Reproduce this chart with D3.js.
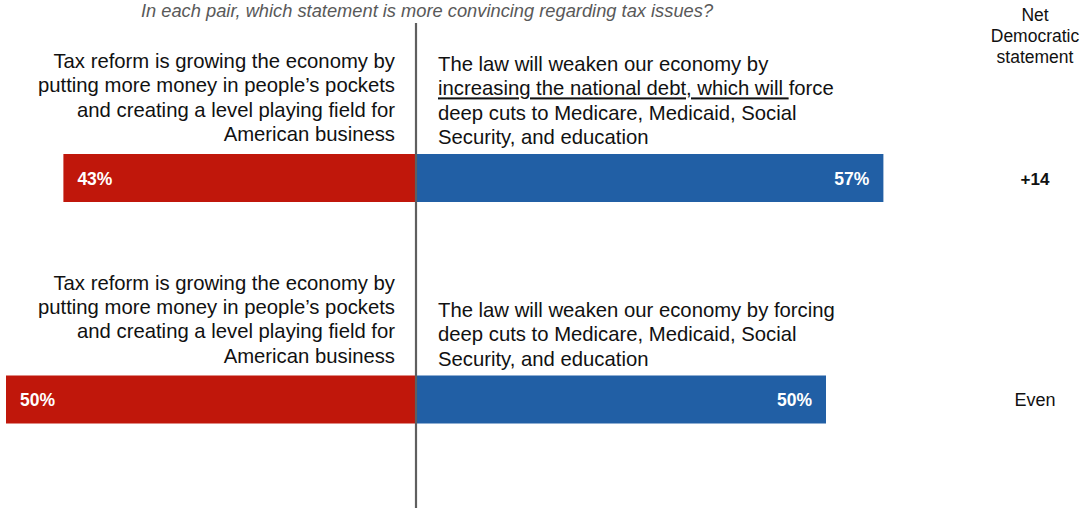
<!DOCTYPE html>
<html>
<head>
<meta charset="utf-8">
<script src="https://cdn.jsdelivr.net/npm/d3@7.9.0/dist/d3.min.js"></script>
<style>
  body { margin: 0; background: #fff; }
  svg { display: block; font-family: "Liberation Sans", Arial, sans-serif; }
</style>
</head>
<body>
<svg id="chart" width="1087" height="508"></svg>
<script>
// data
const pairs = ['pair1', 'pair2'];
const republican = [43, 50];
const democratic = [57, 50];
const netLabels = ['+14', 'Even'];
const repStatements = [
  ['Tax reform is growing the economy by', 'putting more money in people\u2019s pockets', 'and creating a level playing field for', 'American business'],
  ['Tax reform is growing the economy by', 'putting more money in people\u2019s pockets', 'and creating a level playing field for', 'American business']
];
const demStatements = [
  [['The law will weaken our economy by'], ['increasing the national debt, which will ', 'force'], ['deep cuts to Medicare, Medicaid, Social'], ['Security, and education']],
  [['The law will weaken our economy by forcing'], ['deep cuts to Medicare, Medicaid, Social'], ['Security, and education']]
];
const title = 'In each pair, which statement is more convincing regarding tax issues?';
const netHeader = ['Net', 'Democratic', 'statement'];

const svg = d3.select('#chart');

const x = d3.scaleLinear().domain([-50, 50]).range([6, 826]);
// top of each bar
const yTop = d3.scaleOrdinal().domain(pairs).range([154, 375.5]);
const barH = 48;

/*title*/
svg.append('text')
  .attr('x', 427).attr('y', 17)
  .attr('text-anchor', 'middle')
  .attr('font-size', 18.3)
  .attr('font-style', 'italic')
  .attr('fill', '#595959')
  .text(title);

/*net header*/
svg.append('g').selectAll('text')
  .data(netHeader)
  .join('text')
  .attr('x', 1035)
  .attr('y', (d, i) => 21 + i * 21)
  .attr('text-anchor', 'middle')
  .attr('font-size', 17.5)
  .attr('fill', '#111')
  .text(d => d);

/*bars*/
const rows = svg.append('g').selectAll('g')
  .data(pairs)
  .join('g');

rows.append('rect')
  .attr('x', (d, i) => x(-republican[i]))
  .attr('y', d => yTop(d))
  .attr('width', (d, i) => x(0) - x(-republican[i]))
  .attr('height', barH)
  .attr('fill', '#c0170b');

rows.append('rect')
  .attr('x', x(0))
  .attr('y', d => yTop(d))
  .attr('width', (d, i) => x(democratic[i]) - x(0))
  .attr('height', barH)
  .attr('fill', '#215fa5');

rows.append('text')
  .attr('x', (d, i) => x(-republican[i]) + 14)
  .attr('y', d => yTop(d) + barH / 2 + 6.5)
  .attr('font-size', 17.5)
  .attr('font-weight', 'bold')
  .attr('fill', '#fff')
  .text((d, i) => republican[i] + '%');

rows.append('text')
  .attr('x', (d, i) => x(democratic[i]) - 14)
  .attr('y', d => yTop(d) + barH / 2 + 6.5)
  .attr('text-anchor', 'end')
  .attr('font-size', 17.5)
  .attr('font-weight', 'bold')
  .attr('fill', '#fff')
  .text((d, i) => democratic[i] + '%');

/*net values*/
rows.append('text')
  .attr('x', 1035)
  .attr('y', d => yTop(d) + barH / 2 + 6.5)
  .attr('text-anchor', 'middle')
  .attr('font-size', (d, i) => i === 0 ? 17 : 18)
  .attr('font-weight', (d, i) => i === 0 ? 'bold' : 'normal')
  .attr('fill', '#111')
  .text((d, i) => netLabels[i]);

/*statements*/
const lineH = 24.3;
rows.each(function(d, i) {
  const g = d3.select(this);
  const top = yTop(d);
  const rep = repStatements[i];
  g.append('g').selectAll('text')
    .data(rep)
    .join('text')
    .attr('x', 395)
    .attr('y', (t, j) => top - 13 - (rep.length - 1 - j) * lineH)
    .attr('text-anchor', 'end')
    .attr('font-size', 20.3)
    .attr('fill', '#111')
    .text(t => t);

  const dem = demStatements[i];
  const dt = g.append('g').selectAll('text')
    .data(dem)
    .join('text')
    .attr('x', 438)
    .attr('y', (t, j) => top - 10 - (dem.length - 1 - j) * lineH)
    .attr('font-size', 20.3)
    .attr('fill', '#111');
  dt.selectAll('tspan')
    .data(t => t.map((s, k) => ({ s, u: t.length > 1 && k === 0 })))
    .join('tspan')
    .attr('text-decoration', p => p.u ? 'underline' : null)
    .style('white-space', 'pre')
    .text(p => p.s);
});

/*center line*/
svg.append('line')
  .attr('x1', x(0)).attr('x2', x(0))
  .attr('y1', 23).attr('y2', 508)
  .attr('stroke', '#5f5f5f')
  .attr('stroke-width', 2.2);
</script>
</body>
</html>
